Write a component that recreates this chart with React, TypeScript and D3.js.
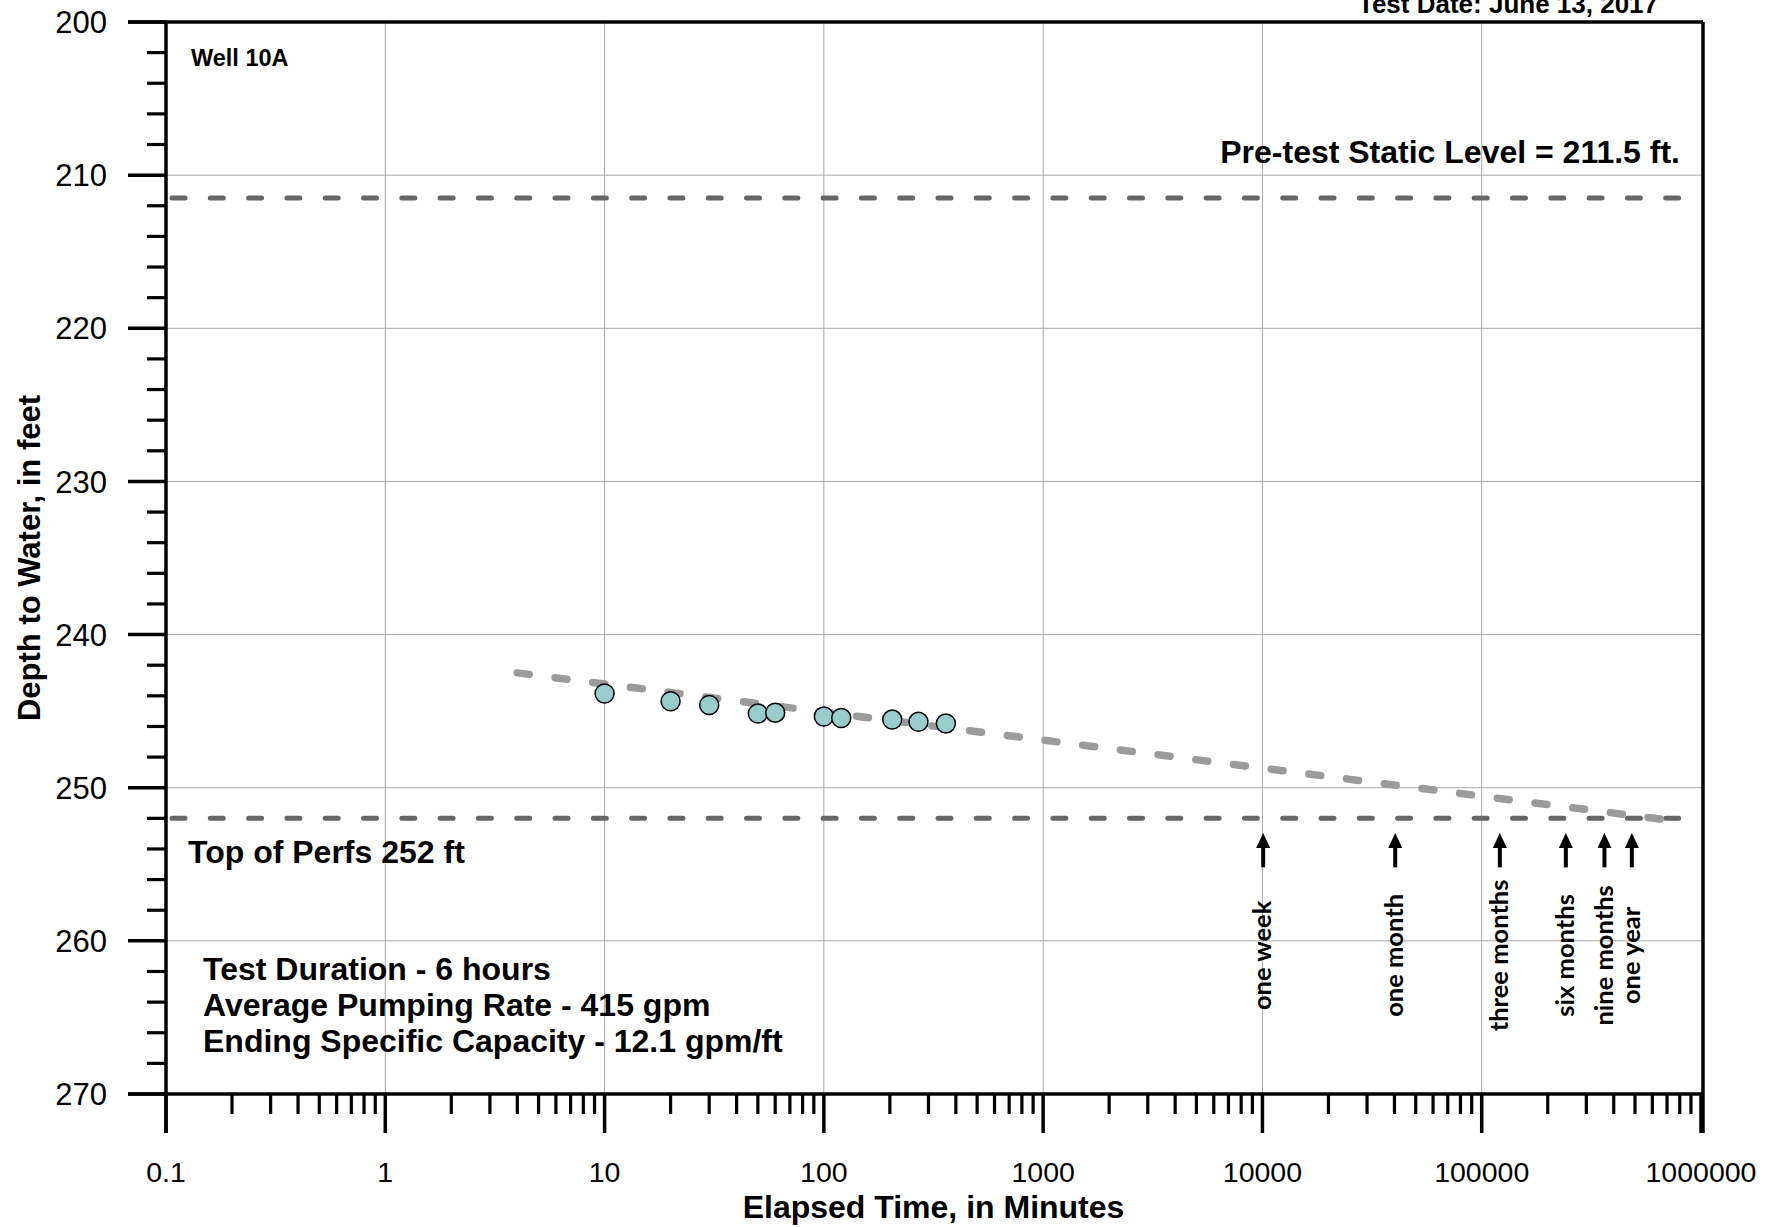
import * as d3 from "d3";

// observed drawdown, Well 10A
const timeMin = [10, 20, 30, 50, 60, 100, 120, 205, 270, 360];
const depthFt = [243.85, 244.35, 244.6, 245.15, 245.1, 245.35, 245.45, 245.55, 245.7, 245.8];

// projected trend (straight line on semi-log)
const trendTime = [4, 700000];
const trendDepth = [242.5, 252.1];

const staticLevel = 211.5;
const topOfPerfs = 252;
const refLineTime = [0.1, 800000];

const milestoneLabels = ["one week", "one month", "three months", "six months", "nine months", "one year"];
const milestoneTime = [10080, 40320, 120960, 241920, 362880, 483840];

const xTickValues = [0.1, 1, 10, 100, 1000, 10000, 100000, 1000000];
const xTickLabels = ["0.1", "1", "10", "100", "1000", "10000", "100000", "1000000"];
const yTickValues = [200, 210, 220, 230, 240, 250, 260, 270];

const notes = [
  "Test Duration - 6 hours",
  "Average Pumping Rate - 415 gpm",
  "Ending Specific Capacity - 12.1 gpm/ft",
];

const W = 1780;
const H = 1227;
const left = 166;
const right = 1701;
const top = 22;
const bottom = 1094;
const font = "'Liberation Sans', Arial, sans-serif";

export default function App() {
  const x = d3.scaleLog().domain([0.1, 1000000]).range([left, right]);
  const y = d3.scaleLinear().domain([200, 270]).range([top, bottom]);

  const xMinor = x.ticks().filter((t) => !xTickValues.some((v) => Math.abs(v - t) / v < 1e-6));
  const yMinor = d3.range(202, 270, 2).filter((v) => v % 10 !== 0);

  const line = d3
    .line<[number, number]>()
    .x((d) => x(d[0]))
    .y((d) => y(d[1]));

  const trend = line(trendTime.map((t, i) => [t, trendDepth[i]]) as [number, number][]);
  const staticPath = line(refLineTime.map((t) => [t, staticLevel]) as [number, number][]);
  const perfPath = line(refLineTime.map((t) => [t, topOfPerfs]) as [number, number][]);

  const grid = "#a8a8a8";

  return (
    <svg
      width={W}
      height={H}
      style={{ position: "absolute", left: 0, top: 0, display: "block", background: "#fff" }}
      fontFamily={font}
    >
      {/* grid */}
      {yTickValues.slice(1, -1).map((v) => (
        <line key={"gy" + v} x1={left} x2={right} y1={y(v)} y2={y(v)} stroke={grid} strokeWidth={1} />
      ))}
      {xTickValues.slice(1, -1).map((v) => (
        <line key={"gx" + v} x1={x(v)} x2={x(v)} y1={top} y2={bottom} stroke={grid} strokeWidth={1} />
      ))}

      {/* reference levels */}
      <path d={staticPath!} fill="none" stroke="#666" strokeWidth={5} strokeDasharray="13,25.3" strokeDashoffset={-6} strokeLinecap="round" />
      <path d={perfPath!} fill="none" stroke="#666" strokeWidth={5} strokeDasharray="13,25.3" strokeDashoffset={-6} strokeLinecap="round" />

      {/* trend */}
      <path d={trend!} fill="none" stroke="#9b9b9b" strokeWidth={7.5} strokeDasharray="12,26" strokeLinecap="round" />

      {/* points */}
      {timeMin.map((t, i) => (
        <circle key={"p" + i} cx={x(t)} cy={y(depthFt[i])} r={9.5} fill="#99cccc" stroke="#000" strokeWidth={1.5} />
      ))}

      {/* axes frame */}
      <line x1={128} x2={right + 2} y1={top} y2={top} stroke="#000" strokeWidth={3.5} />
      <line x1={128} x2={right + 2} y1={bottom} y2={bottom} stroke="#000" strokeWidth={3.5} />
      <line x1={left} x2={left} y1={top} y2={bottom + 39} stroke="#000" strokeWidth={3.5} />
      <line x1={right + 2} x2={right + 2} y1={top} y2={bottom + 39} stroke="#000" strokeWidth={3.5} />

      {/* y ticks */}
      {yTickValues.map((v) => (
        <g key={"yt" + v}>
          <line x1={128} x2={left} y1={y(v)} y2={y(v)} stroke="#000" strokeWidth={3.5} />
          <text x={107} y={y(v)} dy="0.36em" textAnchor="end" fontSize={31}>
            {v}
          </text>
        </g>
      ))}
      {yMinor.map((v) => (
        <line key={"ym" + v} x1={147} x2={left} y1={y(v)} y2={y(v)} stroke="#000" strokeWidth={3.2} />
      ))}

      {/* x ticks */}
      {xTickValues.map((v, i) => (
        <g key={"xt" + v}>
          <line x1={x(v)} x2={x(v)} y1={bottom} y2={bottom + 39} stroke="#000" strokeWidth={3.5} />
          <text x={x(v)} y={1182} textAnchor="middle" fontSize={28.5}>
            {xTickLabels[i]}
          </text>
        </g>
      ))}
      {xMinor.map((v, i) => (
        <line key={"xm" + i} x1={x(v)} x2={x(v)} y1={bottom} y2={bottom + 20} stroke="#000" strokeWidth={3.2} />
      ))}

      {/* axis titles */}
      <text x={(left + right) / 2} y={1218} textAnchor="middle" fontSize={32} fontWeight="bold">
        Elapsed Time, in Minutes
      </text>
      <text
        transform={`translate(40, ${(top + bottom) / 2}) rotate(-90)`}
        textAnchor="middle"
        fontSize={31}
        fontWeight="bold"
      >
        Depth to Water, in feet
      </text>

      {/* annotations */}
      <text x={1508} y={13} textAnchor="middle" fontSize={26} fontWeight="bold">
        Test Date: June 13, 2017
      </text>
      <text x={191} y={66} fontSize={23.5} fontWeight="bold">
        Well 10A
      </text>
      <text x={1680} y={163} textAnchor="end" fontSize={32} fontWeight="bold">
        Pre-test Static Level = 211.5 ft.
      </text>
      <text x={188} y={863} fontSize={32} fontWeight="bold">
        Top of Perfs 252 ft
      </text>
      {notes.map((n, i) => (
        <text key={"n" + i} x={203} y={980 + i * 36} fontSize={32} fontWeight="bold">
          {n}
        </text>
      ))}

      {/* time milestones */}
      {milestoneTime.map((t, i) => {
        const cx = x(t);
        const tip = y(252.95);
        const base = y(255.2);
        return (
          <g key={"m" + i}>
            <line x1={cx} x2={cx} y1={tip + 10} y2={base} stroke="#000" strokeWidth={4} />
            <path d={`M${cx},${tip} L${cx - 7},${tip + 15} L${cx + 7},${tip + 15} Z`} fill="#000" />
            <text
              transform={`translate(${cx}, ${y(260.95)}) rotate(-90)`}
              textAnchor="middle"
              dy="0.32em"
              fontSize={25.5}
              fontWeight="bold"
              fontFamily="Lato, 'Open Sans', sans-serif"
            >
              {milestoneLabels[i]}
            </text>
          </g>
        );
      })}
    </svg>
  );
}
